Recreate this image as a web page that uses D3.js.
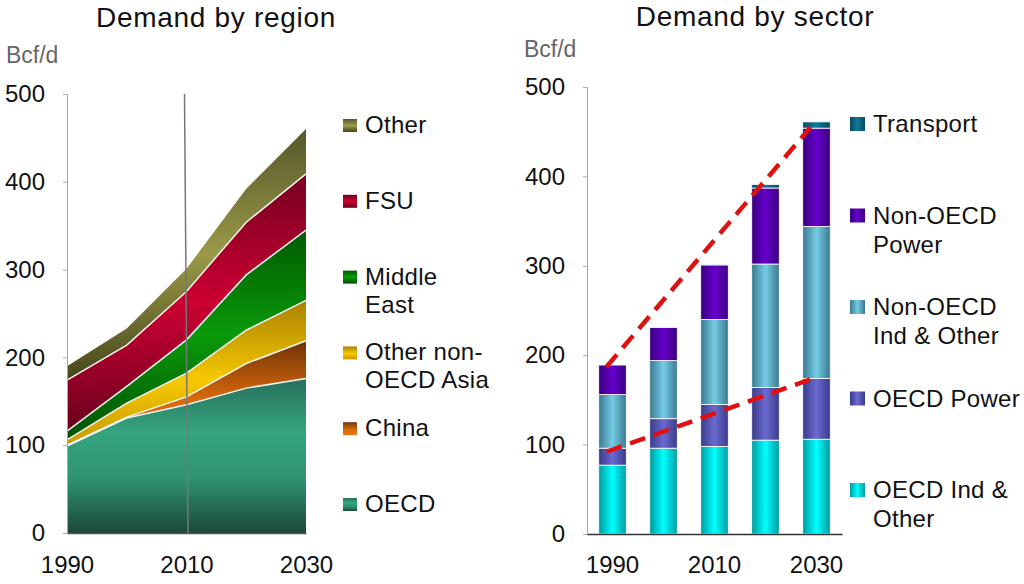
<!DOCTYPE html>
<html><head><meta charset="utf-8">
<script src="https://cdn.jsdelivr.net/npm/d3@7"></script>
<style>body{margin:0;background:#fff} text{font-family:"Liberation Sans",Arial,sans-serif;fill:#111}</style>
</head><body><svg id="c" width="1024" height="584"></svg>
<script>
// ---------- data ----------
const years = [1990, 2000, 2010, 2020, 2030];
const tickYears = [1990, 2010, 2030];
const yTicks = [0, 100, 200, 300, 400, 500];

const regionKeys = ["OECD", "China", "Other non-OECD Asia", "Middle East", "FSU", "Other"];
const oecd       = [99, 131, 146, 165, 176];
const china      = [1, 1, 9, 28, 43];
const otherAsia  = [6, 16, 27, 38, 46];
const middleEast = [10, 19, 38, 63, 80];
const fsu        = [58, 47, 55, 60, 64];
const otherReg   = [16, 19, 26, 38, 51];
const regionLegend = [["Other"], ["FSU"], ["Middle", "East"], ["Other non-", "OECD Asia"], ["China"], ["OECD"]];

const sectorKeys = ["OECD Ind & Other", "OECD Power", "Non-OECD Ind & Other", "Non-OECD Power", "Transport"];
const oecdInd      = [77, 96, 98, 105, 106];
const oecdPower    = [19, 33, 47, 59, 68];
const nonOecdInd   = [60, 65, 95, 138, 170];
const nonOecdPower = [33, 37, 61, 85, 110];
const transport    = [0, 0, 1, 4, 7];
const sectorLegend = [["Transport"], ["Non-OECD", "Power"], ["Non-OECD", "Ind & Other"], ["OECD Power"], ["OECD Ind &", "Other"]];

const trendYears = [1990, 2030];
const trendUpper = [187, 455];
const trendLower = [92, 173];

// ---------- setup ----------
const svg = d3.select("#c");
const defs = svg.append("defs");

function vGrad(id, stops) {
  const g = defs.append("linearGradient").attr("id", id).attr("x1", 0).attr("y1", 0).attr("x2", 0).attr("y2", 1);
  stops.forEach(s => g.append("stop").attr("offset", s[0]).attr("stop-color", s[1]));
}
function hGrad(id, stops) {
  const g = defs.append("linearGradient").attr("id", id).attr("x1", 0).attr("y1", 0).attr("x2", 1).attr("y2", 0);
  stops.forEach(s => g.append("stop").attr("offset", s[0]).attr("stop-color", s[1]));
}

const regionColors = [
  [["0", "#27705a"], ["0.35", "#36a47f"], ["0.65", "#2f9372"], ["1", "#1b473a"]],
  [["0", "#6e3407"], ["0.55", "#d8680c"], ["1", "#e87a10"]],
  [["0", "#a88200"], ["0.55", "#f7c800"], ["1", "#c89a00"]],
  [["0", "#005a00"], ["0.5", "#0a9a0a"], ["1", "#005000"]],
  [["0", "#760020"], ["0.5", "#cc0033"], ["1", "#6a001c"]],
  [["0", "#56562a"], ["0.5", "#9a9a48"], ["1", "#45451c"]]
];
regionColors.forEach((c, i) => vGrad("rg" + i, c));

const sectorColors = [
  [["0", "#009aa0"], ["0.5", "#00ffff"], ["1", "#009aa0"]],
  [["0", "#3a3a8a"], ["0.5", "#6a6ad0"], ["1", "#3a3a8a"]],
  [["0", "#3a7890"], ["0.5", "#74cce4"], ["1", "#3a7890"]],
  [["0", "#3a007e"], ["0.5", "#6600cc"], ["1", "#3a007e"]],
  [["0", "#064a62"], ["0.5", "#0e7a9a"], ["1", "#064a62"]]
];
sectorColors.forEach((c, i) => hGrad("sg" + i, c));

// ---------- left: demand by region ----------
const regionSeries = [oecd, china, otherAsia, middleEast, fsu, otherReg];
const regionRows = years.map((y, i) => {
  const r = { year: y };
  regionKeys.forEach((k, j) => r[k] = regionSeries[j][i]);
  return r;
});
const stackR = d3.stack().keys(regionKeys)(regionRows);

const xL = d3.scaleLinear().domain([1990, 2030]).range([67, 306]);
const yL = d3.scaleLinear().domain([0, 500]).range([533, 94]);

const gL = svg.append("g");
const area = d3.area().x(d => xL(d.data.year)).y0(d => yL(d[0])).y1(d => yL(d[1]));
gL.selectAll("path.area").data(stackR).join("path")
  .attr("class", "area").attr("d", area).attr("fill", (d, i) => `url(#rg${i})`);
const topLine = d3.line().x(d => xL(d.data.year)).y(d => yL(d[1]));
gL.selectAll("path.sep").data(stackR.slice(0, -1)).join("path")
  .attr("class", "sep").attr("d", topLine).attr("fill", "none")
  .attr("stroke", "#f4f4f4").attr("stroke-width", 1.5);

// axes
const yAxisL = d3.axisLeft(yL).tickValues(yTicks).tickSize(4).tickPadding(18);
const ayL = gL.append("g").attr("transform", `translate(${xL(1990)},0)`).call(yAxisL);
ayL.select(".domain").attr("stroke", "#aaa");
ayL.selectAll(".tick line").attr("stroke", "#aaa");
ayL.selectAll(".tick text").attr("font-size", 24).style("fill", "#111");

const xAxisL = d3.axisBottom(xL).tickValues(tickYears).tickFormat(d3.format("d")).tickSize(0).tickPadding(23);
const axL = gL.append("g").attr("transform", `translate(0,${yL(0)})`).call(xAxisL);
axL.select(".domain").attr("stroke", "#555").attr("stroke-width", 1.5);
axL.selectAll(".tick text").attr("font-size", 24).style("fill", "#111");

// 2010 marker line
gL.append("line").attr("x1", xL(2010) - 2).attr("x2", xL(2010) + 1.5)
  .attr("y1", yL(500)).attr("y2", yL(0)).attr("stroke", "#777").attr("stroke-width", 1.5);

svg.append("text").attr("x", 216).attr("y", 27).attr("text-anchor", "middle")
  .attr("font-size", 28).attr("letter-spacing", 0.7).text("Demand by region");
svg.append("text").attr("x", 6).attr("y", 63).attr("font-size", 23).style("fill", "#666").text("Bcf/d");

// left legend
const legL = svg.append("g");
const legLIdx = [5, 4, 3, 2, 1, 0];
regionLegend.forEach((lines, k) => {
  const by = 133 + k * 75.8;
  const g = legL.append("g");
  g.append("rect").attr("x", 343).attr("y", by - 14).attr("width", 14).attr("height", 13)
    .attr("fill", `url(#rg${legLIdx[k]})`);
  const t = g.append("text").attr("x", 365).attr("y", by).attr("font-size", 24).attr("letter-spacing", 0.3);
  lines.forEach((l, li) => t.append("tspan").attr("x", 365).attr("dy", li ? 28 : 0).text(l));
});

// ---------- right: demand by sector ----------
const sectorSeries = [oecdInd, oecdPower, nonOecdInd, nonOecdPower, transport];
const sectorRows = years.map((y, i) => {
  const r = { year: y };
  sectorKeys.forEach((k, j) => r[k] = sectorSeries[j][i]);
  return r;
});
const stackS = d3.stack().keys(sectorKeys)(sectorRows);

const xR = d3.scaleBand().domain(years).range([587, 842]).paddingInner(0.46).paddingOuter(0.23);
const yR = d3.scaleLinear().domain([0, 500]).range([534, 87]);

const gR = svg.append("g");
const yAxisR = d3.axisLeft(yR).tickValues(yTicks).tickSize(4).tickPadding(18);
const ayR = gR.append("g").attr("transform", `translate(587,0)`).call(yAxisR);
ayR.select(".domain").attr("stroke", "#aaa");
ayR.selectAll(".tick line").attr("stroke", "#aaa");
ayR.selectAll(".tick text").attr("font-size", 24).style("fill", "#111");

gR.selectAll("g.series").data(stackS).join("g").attr("class", "series")
  .attr("fill", (d, i) => `url(#sg${i})`)
  .selectAll("rect").data(d => d.filter(p => p[1] - p[0] > 0)).join("rect")
  .attr("x", d => xR(d.data.year)).attr("width", xR.bandwidth())
  .attr("y", d => yR(d[1])).attr("height", d => yR(d[0]) - yR(d[1]))
  .attr("stroke", "#fff").attr("stroke-width", 0.8);

const xAxisR = d3.axisBottom(xR).tickValues(tickYears).tickSize(0).tickPadding(22);
const axR = gR.append("g").attr("transform", `translate(0,${yR(0)})`).call(xAxisR);
axR.select(".domain").attr("stroke", "#333").attr("stroke-width", 1.5);
axR.selectAll(".tick text").attr("font-size", 24).style("fill", "#111");

// trend lines
const trendX = y => xR(y) + xR.bandwidth() / 2 - 6;
[trendUpper, trendLower].forEach(vals => {
  gR.append("line")
    .attr("x1", trendX(trendYears[0])).attr("y1", yR(vals[0]))
    .attr("x2", trendX(trendYears[1])).attr("y2", yR(vals[1]))
    .attr("stroke", "#e01010").attr("stroke-width", 4.5).attr("stroke-dasharray", "16,9");
});

svg.append("text").attr("x", 755).attr("y", 26).attr("text-anchor", "middle")
  .attr("font-size", 28).attr("letter-spacing", 0.7).text("Demand by sector");
svg.append("text").attr("x", 524).attr("y", 57).attr("font-size", 23).style("fill", "#666").text("Bcf/d");

const legR = svg.append("g");
const legRIdx = [4, 3, 2, 1, 0];
sectorLegend.forEach((lines, k) => {
  const by = 132 + k * 91.5;
  const g = legR.append("g");
  g.append("rect").attr("x", 850).attr("y", by - 15).attr("width", 15).attr("height", 14)
    .attr("fill", `url(#sg${legRIdx[k]})`);
  const t = g.append("text").attr("x", 873).attr("y", by).attr("font-size", 24).attr("letter-spacing", 0.3);
  lines.forEach((l, li) => t.append("tspan").attr("x", 873).attr("dy", li ? 29 : 0).text(l));
});
</script></body></html>
